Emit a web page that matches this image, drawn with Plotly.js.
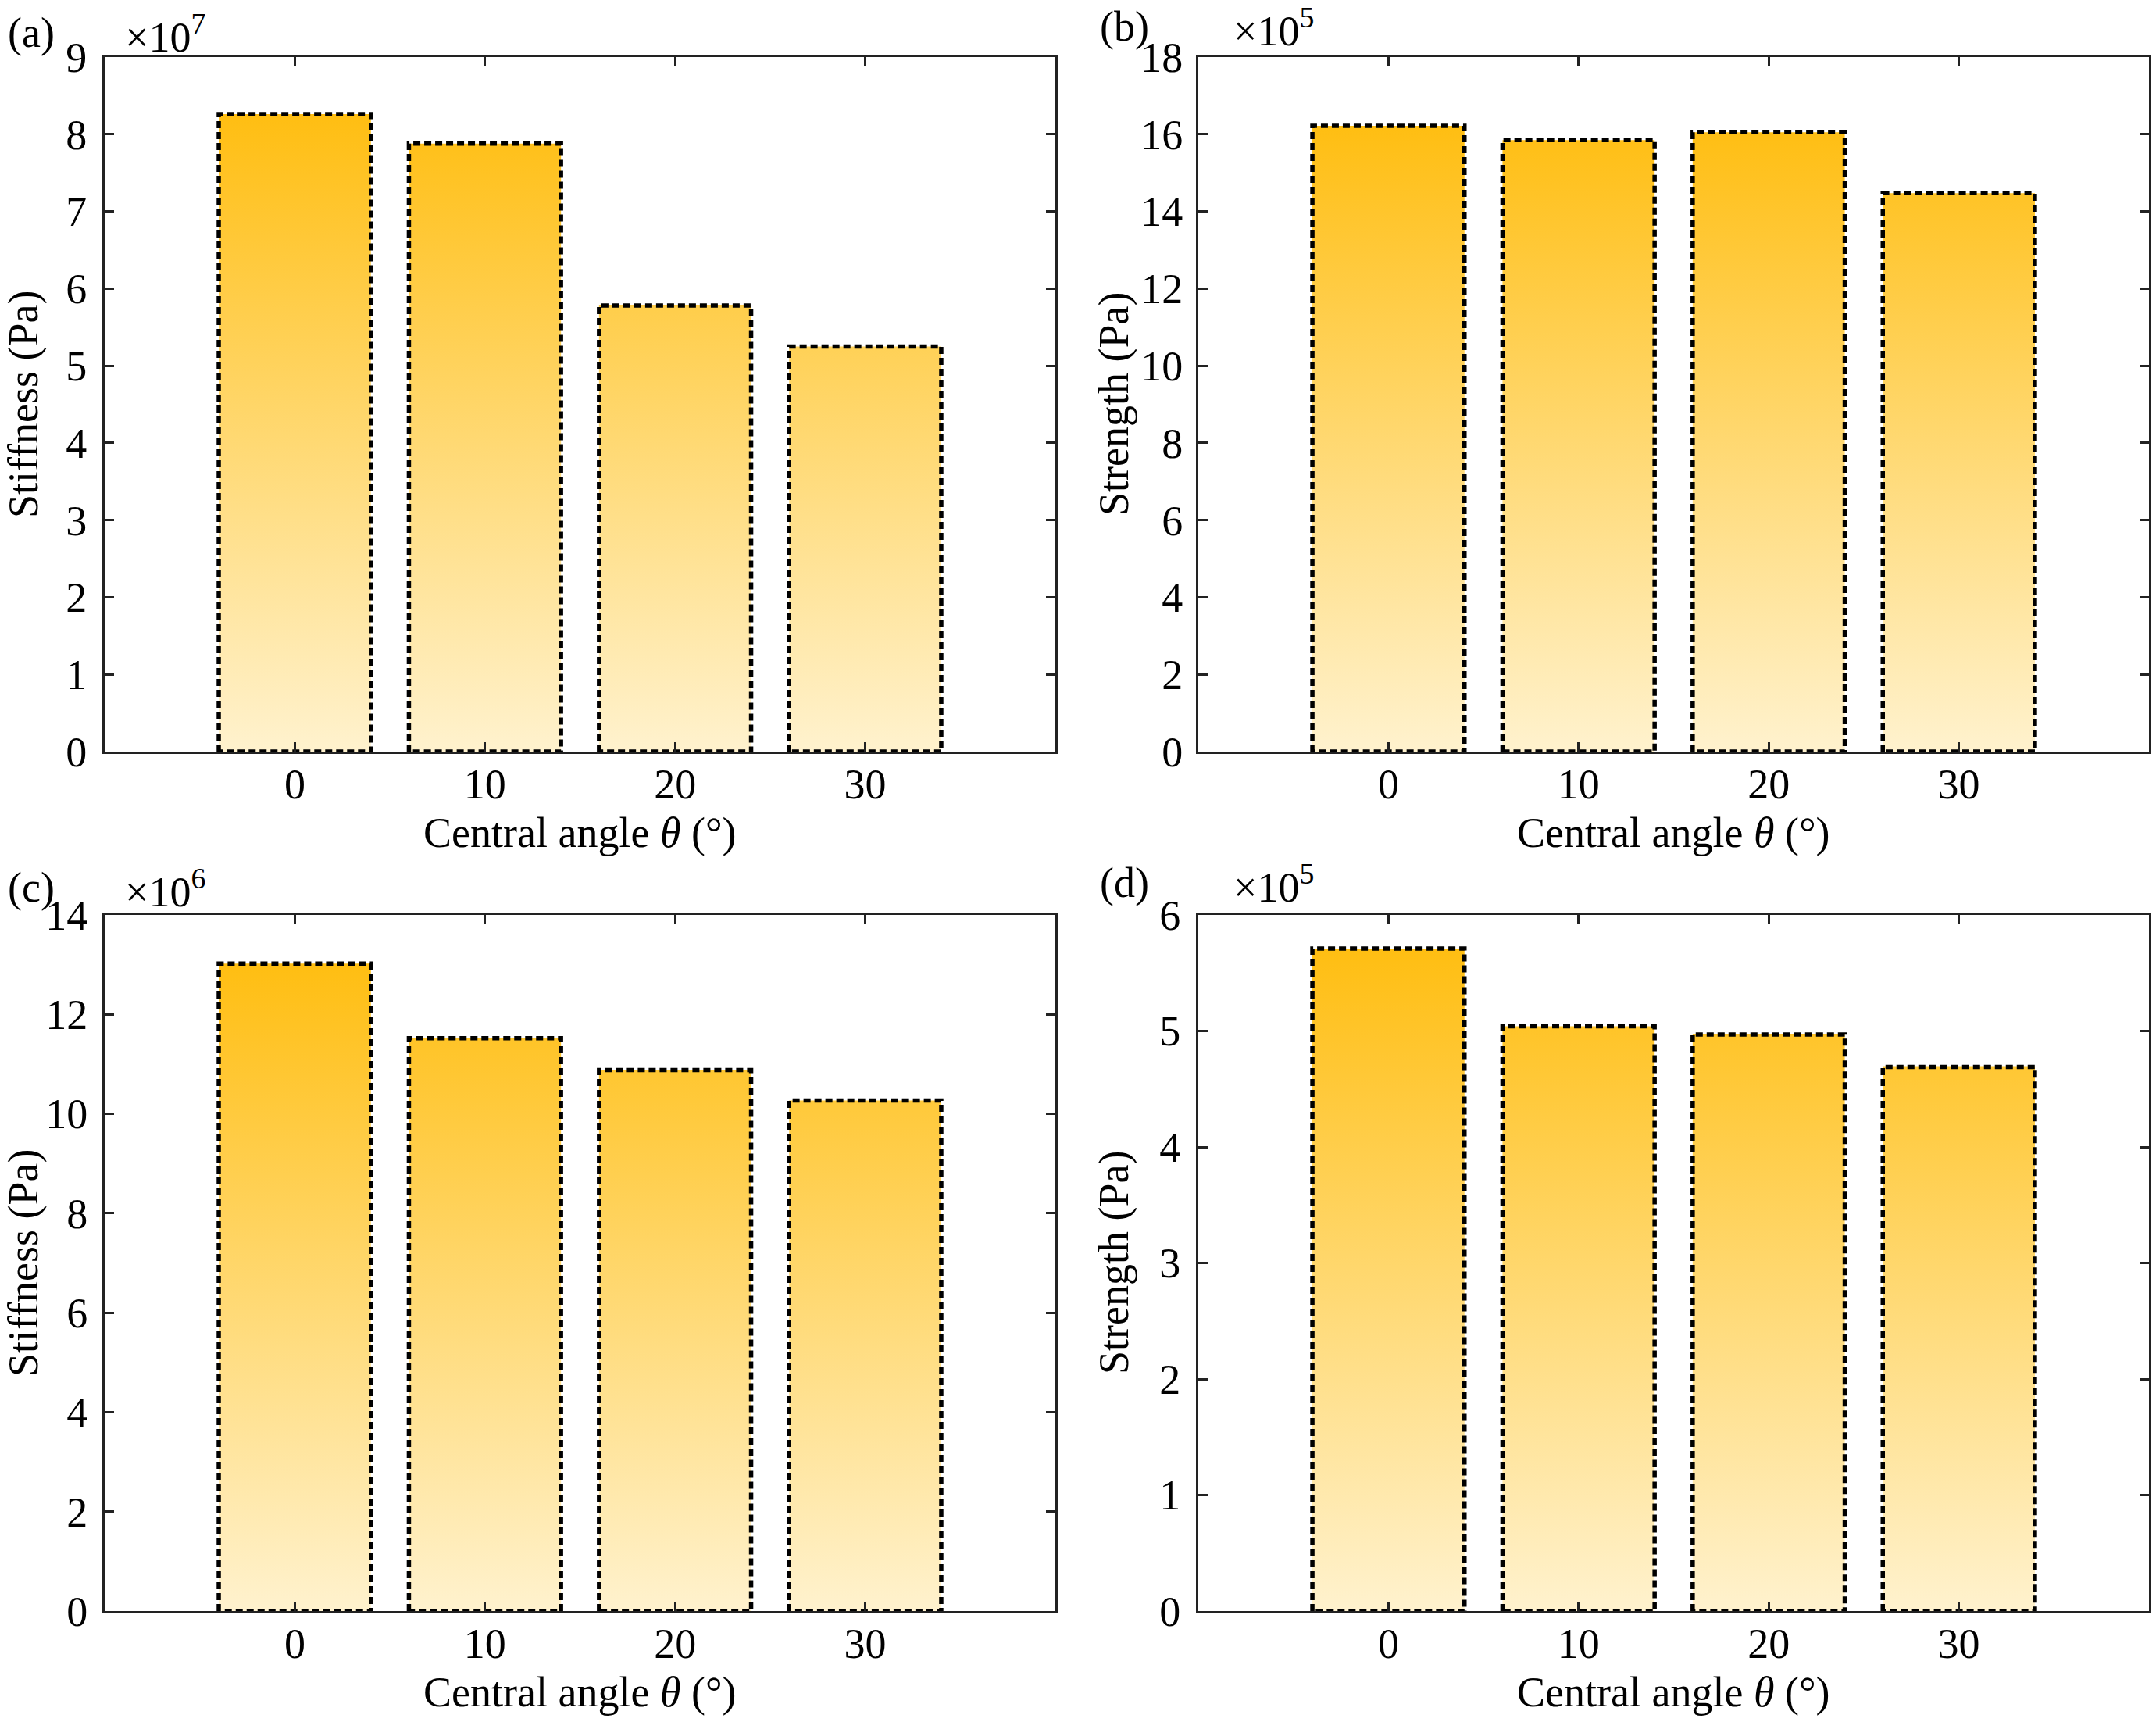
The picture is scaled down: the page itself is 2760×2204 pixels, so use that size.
<!DOCTYPE html>
<html>
<head>
<meta charset="utf-8">
<script src="https://cdn.plot.ly/plotly-3.0.1.min.js"></script>
<style>
    body { margin: 0; background: #fff; }
    #myChart { width: 2760px; height: 2204px; }
</style>
</head>
<body>
<div id="myChart"></div>
<script>
// central angles (deg) and the values
const angles = [0, 10, 20, 30];
const angleLabels = ['0', '10', '20', '30'];
const stiffnessA = [8.26, 7.88, 5.78, 5.25];      // x10^7 Pa
const strengthB = [16.22, 15.85, 16.05, 14.47];   // x10^5 Pa
const stiffnessC = [13.02, 11.52, 10.88, 10.27];  // x10^6 Pa
const strengthD = [5.71, 5.04, 4.97, 4.69];       // x10^5 Pa

const W = 2760, H = 2204;
const serif = 'Liberation Serif, Times New Roman, serif';
const axisColor = '#222';
const fs = 54;

// pixel -> paper helpers
const px = x => x / W;
const py = y => 1 - y / H;

const colL = [px(134), px(1351)];
const colR = [px(1534), px(2751)];
const rowT = [py(962), py(73)];
const rowB = [py(2062), py(1171)];

function makeBar(vals, xa, ya) {
    return {
        type: 'bar',
        x: angles,
        y: vals,
        xaxis: xa,
        yaxis: ya,
        width: 8,
        marker: { color: '#FFC014', line: { color: '#000', width: 5.5 } },
        hoverinfo: 'skip'
    };
}

function xAxis(domain, anchor) {
    return {
        domain: domain,
        anchor: anchor,
        range: [-10, 40],
        tickvals: angles,
        ticktext: angleLabels,
        ticks: 'inside',
        ticklen: 12,
        tickwidth: 3,
        tickcolor: axisColor,
        showline: true,
        linewidth: 3,
        linecolor: axisColor,
        mirror: 'ticks',
        showgrid: false,
        zeroline: false,
        ticklabelstandoff: -8,
        tickfont: { family: serif, size: fs, color: '#000' }
    };
}

function yAxis(domain, anchor, max, dtick, standoff) {
    return {
        domain: domain,
        anchor: anchor,
        range: [0, max],
        tick0: 0,
        dtick: dtick,
        ticks: 'inside',
        ticklen: 12,
        tickwidth: 3,
        tickcolor: axisColor,
        showline: true,
        linewidth: 3,
        linecolor: axisColor,
        mirror: 'ticks',
        showgrid: false,
        zeroline: false,
        ticklabelstandoff: standoff,
        tickfont: { family: serif, size: fs, color: '#000' }
    };
}

function note(text, x, y, opts) {
    return Object.assign({
        text: text,
        xref: 'paper', yref: 'paper',
        x: px(x), y: py(y),
        xanchor: 'left', yanchor: 'middle',
        showarrow: false,
        font: { family: serif, size: fs, color: '#000' }
    }, opts || {});
}

const xTitle = 'Central angle <i>θ</i> (°)';

const annotations = [
    // panel letters
    note('(a)', 8, 42),
    note('(b)', 1406, 34),
    note('(c)', 8, 1136),
    note('(d)', 1406, 1130),
    // exponent labels
    note('×10<sup>7</sup>', 158, 44),
    note('×10<sup>5</sup>', 1577, 35),
    note('×10<sup>6</sup>', 158, 1137),
    note('×10<sup>5</sup>', 1577, 1131),
    // x titles
    note(xTitle, 742, 1066, { xanchor: 'center' }),
    note(xTitle, 2142, 1066, { xanchor: 'center' }),
    note(xTitle, 742, 2166, { xanchor: 'center' }),
    note(xTitle, 2142, 2166, { xanchor: 'center' }),
    // y titles
    note('Stiffness (Pa)', 30, 517, { xanchor: 'center', textangle: -90 }),
    note('Strength (Pa)', 1426, 517, { xanchor: 'center', textangle: -90 }),
    note('Stiffness (Pa)', 30, 1616, { xanchor: 'center', textangle: -90 }),
    note('Strength (Pa)', 1426, 1616, { xanchor: 'center', textangle: -90 })
];

const data = [
    makeBar(stiffnessA, 'x', 'y'),
    makeBar(strengthB, 'x2', 'y2'),
    makeBar(stiffnessC, 'x3', 'y3'),
    makeBar(strengthD, 'x4', 'y4')
];

const layout = {
    width: W,
    height: H,
    margin: { l: 0, r: 0, t: 0, b: 0 },
    paper_bgcolor: '#fff',
    plot_bgcolor: '#fff',
    showlegend: false,
    hovermode: false,
    xaxis: xAxis(colL, 'y'),
    yaxis: yAxis(rowT, 'x', 9, 1, 9),
    xaxis2: xAxis(colR, 'y2'),
    yaxis2: yAxis(rowT, 'x2', 18, 2, 6),
    xaxis3: xAxis(colL, 'y3'),
    yaxis3: yAxis(rowB, 'x3', 14, 2, 8),
    xaxis4: xAxis(colR, 'y4'),
    yaxis4: yAxis(rowB, 'x4', 6, 1, 9),
    annotations: annotations
};

// plotly bars have no gradient fill or dashed outline, so patch the drawn paths
function paintBars(gd) {
    const ns = 'http://www.w3.org/2000/svg';
    const defs = gd.querySelector('.main-svg defs');
    gd.querySelectorAll('.cartesianlayer .subplot').forEach((sp, i) => {
        const paths = sp.querySelectorAll('.barlayer .point path');
        if (!paths.length) return;
        let top = Infinity, bottom = -Infinity;
        paths.forEach(p => {
            const b = p.getBBox();
            top = Math.min(top, b.y);
            bottom = Math.max(bottom, b.y + b.height);
        });
        const id = 'barGrad' + i;
        const g = document.createElementNS(ns, 'linearGradient');
        g.setAttribute('id', id);
        g.setAttribute('gradientUnits', 'userSpaceOnUse');
        g.setAttribute('x1', 0);
        g.setAttribute('x2', 0);
        g.setAttribute('y1', bottom);
        g.setAttribute('y2', top);
        [['0', 'rgb(255,242,206)'], ['1', 'rgb(255,190,18)']].forEach(s => {
            const stop = document.createElementNS(ns, 'stop');
            stop.setAttribute('offset', s[0]);
            stop.setAttribute('stop-color', s[1]);
            g.appendChild(stop);
        });
        defs.appendChild(g);
        paths.forEach(p => {
            p.style.fill = 'url(#' + id + ')';
            p.style.strokeDasharray = '9,5';
        });
    });
}

Plotly.newPlot('myChart', data, layout, { staticPlot: true }).then(paintBars);
</script>
</body>
</html>
